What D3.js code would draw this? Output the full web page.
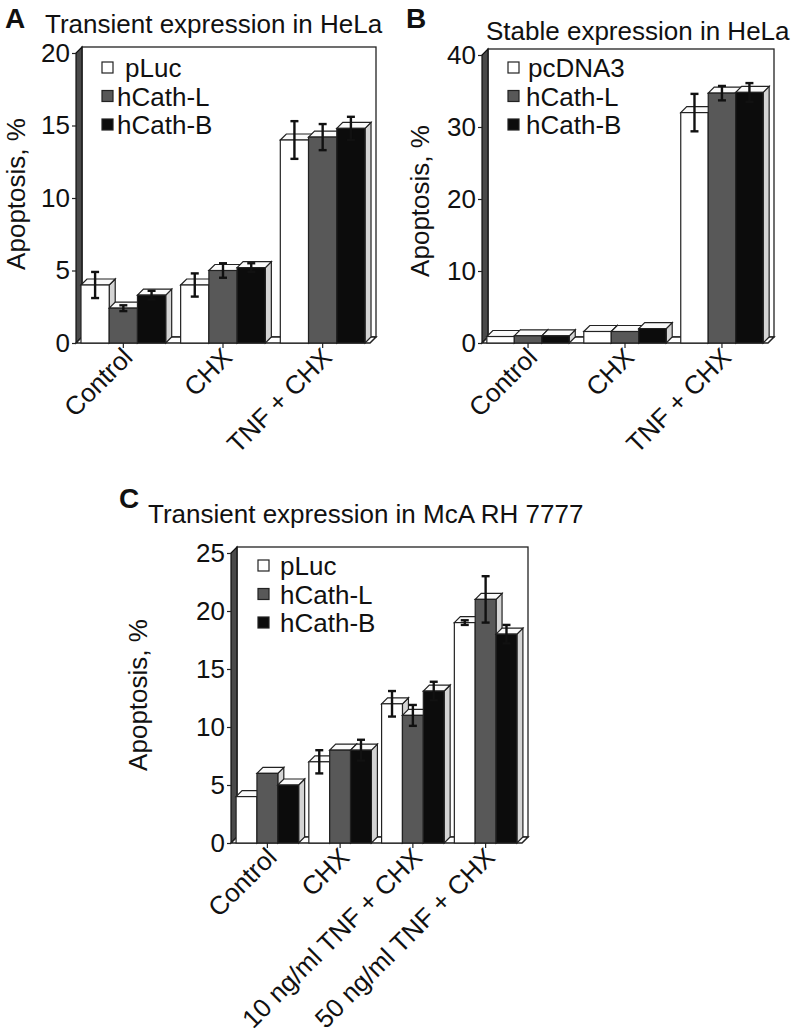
<!DOCTYPE html>
<html>
<head>
<meta charset="utf-8">
<script src="https://cdn.jsdelivr.net/npm/d3@7"></script>
<style>
  body { margin: 0; background: #fff; }
  text { font-family: "Liberation Sans", Arial, sans-serif; fill: #111; }
</style>
</head>
<body>
<script>
// categories
var categoriesAB = ["Control", "CHX", "TNF + CHX"];
var categoriesC = ["Control", "CHX", "10 ng/ml TNF + CHX", "50 ng/ml TNF + CHX"];
var seriesA = ["pLuc", "hCath-L", "hCath-B"];
var seriesB = ["pcDNA3", "hCath-L", "hCath-B"];
var seriesC = ["pLuc", "hCath-L", "hCath-B"];

// panel A values (% apoptosis) and error
var aLuc = [4.0, 4.0, 14.0], aLucErr = [0.9, 0.8, 1.3];
var aCathL = [2.4, 5.0, 14.2], aCathLErr = [0.2, 0.5, 0.9];
var aCathB = [3.3, 5.2, 14.8], aCathBErr = [0.3, 0.3, 0.8];

// panel B
var bPc = [0.9, 1.6, 32.0], bPcErr = [0, 0, 2.6];
var bCathL = [1.0, 1.6, 34.7], bCathLErr = [0, 0, 1.0];
var bCathB = [1.0, 2.0, 34.8], bCathBErr = [0, 0, 1.3];

// panel C
var cLuc = [4.0, 7.0, 12.0, 19.0], cLucErr = [0, 1.0, 1.1, 0.2];
var cCathL = [6.0, 8.0, 11.0, 21.0], cCathLErr = [0, 0, 0.9, 2.0];
var cCathB = [5.0, 8.0, 13.1, 18.0], cCathBErr = [0, 0.9, 0.8, 0.8];

var ticksA = [0, 5, 10, 15, 20];
var ticksB = [0, 10, 20, 30, 40];
var ticksC = [0, 5, 10, 15, 20, 25];

var fills = ["#ffffff", "#585858", "#0c0c0c"];
var depth = 6;

var svg = d3.select("body")
        .append("svg")
        .attr("width", 796)
        .attr("height", 1035);

function drawPanel(p) {
    var g = svg.append("g");
    var y = d3.scaleLinear().domain(p.domain).range([p.y0, p.yTop]);
    var x = d3.scaleBand().domain(p.categories).range([p.x0, p.x1])
            .paddingInner(p.padIn).paddingOuter(p.padOut);
    var xs = d3.scaleBand().domain(d3.range(p.series.length)).range([0, x.bandwidth()]);
    var top = y(p.domain[1]);

    // back wall
    g.append("rect")
            .attr("x", p.x0 + depth)
            .attr("y", top - depth)
            .attr("width", p.x1 - p.x0)
            .attr("height", p.y0 - top)
            .attr("fill", "#fff")
            .attr("stroke", "#222")
            .attr("stroke-width", 1.3);
    // left wall
    g.append("path")
            .attr("d", "M" + p.x0 + "," + p.y0 + "L" + p.x0 + "," + top +
                    "L" + (p.x0 + depth) + "," + (top - depth) +
                    "L" + (p.x0 + depth) + "," + (p.y0 - depth) + "Z")
            .attr("fill", "#4a4a4a")
            .attr("stroke", "#111")
            .attr("stroke-width", 1.2);
    // floor
    g.append("path")
            .attr("d", "M" + p.x0 + "," + p.y0 + "L" + p.x1 + "," + p.y0 +
                    "L" + (p.x1 + depth) + "," + (p.y0 - depth) +
                    "L" + (p.x0 + depth) + "," + (p.y0 - depth) + "Z")
            .attr("fill", "#fff")
            .attr("stroke", "#222")
            .attr("stroke-width", 1.5);

    // bars
    var rows = [];
    p.categories.forEach(function (c, i) {
        p.values.forEach(function (v, s) {
            rows.push({cat: c, s: s, v: v[i], e: p.errors[s][i]});
        });
    });

    var bar = g.selectAll(".bar")
            .data(rows)
            .enter()
            .append("g")
            .attr("class", "bar");
    bar.each(function (d) {
        var b = d3.select(this);
        var bx = x(d.cat) + xs(d.s), bw = xs.bandwidth(), by = y(d.v);
        // side
        b.append("path")
                .attr("d", "M" + (bx + bw) + "," + p.y0 + "L" + (bx + bw) + "," + by +
                        "L" + (bx + bw + depth) + "," + (by - depth) +
                        "L" + (bx + bw + depth) + "," + (p.y0 - depth) + "Z")
                .attr("fill", "#d4d4d4")
                .attr("stroke", "#222")
                .attr("stroke-width", 1.2);
        // top
        b.append("path")
                .attr("d", "M" + bx + "," + by + "L" + (bx + bw) + "," + by +
                        "L" + (bx + bw + depth) + "," + (by - depth) +
                        "L" + (bx + depth) + "," + (by - depth) + "Z")
                .attr("fill", "#fafafa")
                .attr("stroke", "#222")
                .attr("stroke-width", 1.2);
        // front
        b.append("rect")
                .attr("x", bx)
                .attr("y", by)
                .attr("width", bw)
                .attr("height", p.y0 - by)
                .attr("fill", fills[d.s])
                .attr("stroke", "#222")
                .attr("stroke-width", 1.2);
    });

    // error bars on top of everything
    var err = g.selectAll(".err")
            .data(rows.filter(function (d) { return d.e > 0; }))
            .enter()
            .append("g")
            .attr("class", "err")
            .attr("stroke", "#111")
            .attr("stroke-width", 2.4);
    err.append("line")
            .attr("x1", function (d) { return x(d.cat) + xs(d.s) + xs.bandwidth() / 2; })
            .attr("x2", function (d) { return x(d.cat) + xs(d.s) + xs.bandwidth() / 2; })
            .attr("y1", function (d) { return y(d.v + d.e); })
            .attr("y2", function (d) { return y(d.v - d.e); });
    [1, -1].forEach(function (sign) {
        err.append("line")
                .attr("x1", function (d) { return x(d.cat) + xs(d.s) + xs.bandwidth() / 2 - 4; })
                .attr("x2", function (d) { return x(d.cat) + xs(d.s) + xs.bandwidth() / 2 + 4; })
                .attr("y1", function (d) { return y(d.v + sign * d.e); })
                .attr("y2", function (d) { return y(d.v + sign * d.e); });
    });

    // y axis
    var yAxis = g.append("g")
            .attr("transform", "translate(" + p.x0 + ",0)")
            .call(d3.axisLeft(y).tickValues(p.ticks).tickSize(4).tickPadding(2));
    yAxis.select(".domain").remove();
    yAxis.selectAll("line").attr("stroke", "#222").attr("stroke-width", 1.2);
    yAxis.selectAll("text")
            .style("font-size", "26px")
            .attr("fill", "#111");

    // x ticks and rotated labels
    g.selectAll(".xtick")
            .data(p.categories)
            .enter()
            .append("line")
            .attr("x1", function (d) { return x(d) + x.bandwidth() / 2; })
            .attr("x2", function (d) { return x(d) + x.bandwidth() / 2; })
            .attr("y1", p.y0)
            .attr("y2", p.y0 + 5)
            .attr("stroke", "#222")
            .attr("stroke-width", 1.2);
    g.selectAll(".xlab")
            .data(p.categories)
            .enter()
            .append("text")
            .attr("transform", function (d) {
                return "translate(" + (x(d) + x.bandwidth() / 2 - 2) + "," + (p.y0 + 3) + ") rotate(-45)";
            })
            .attr("text-anchor", "end")
            .attr("dy", "0.7em")
            .style("font-size", "26px")
            .text(function (d) { return d; });

    // y label
    g.append("text")
            .attr("transform", "translate(" + p.ylabX + "," + p.ylabY + ") rotate(-90)")
            .attr("text-anchor", "middle")
            .style("font-size", "26px")
            .text("Apoptosis, %");

    // title + panel letter
    g.append("text")
            .attr("x", p.titleX).attr("y", p.titleY)
            .style("font-size", "26px")
            .text(p.title);
    g.append("text")
            .attr("x", p.letterX).attr("y", p.letterY)
            .style("font-size", "28px")
            .style("font-weight", "bold")
            .text(p.letter);

    // legend
    var leg = g.selectAll(".leg")
            .data(p.series)
            .enter()
            .append("g")
            .attr("transform", function (d, i) {
                return "translate(" + p.legX + "," + (p.legY + i * 28.5) + ")";
            });
    leg.append("rect")
            .attr("x", 0).attr("y", -15)
            .attr("width", 11).attr("height", 11)
            .attr("fill", function (d, i) { return fills[i]; })
            .attr("stroke", "#222")
            .attr("stroke-width", 1.2);
    leg.append("text")
            .attr("x", function (d, i) { return p.legText[i]; })
            .attr("y", 0)
            .style("font-size", "26px")
            .text(function (d) { return d; });
}

drawPanel({
    letter: "A", letterX: 5, letterY: 28,
    title: "Transient expression in HeLa", titleX: 45, titleY: 33,
    categories: categoriesAB, series: seriesA,
    values: [aLuc, aCathL, aCathB], errors: [aLucErr, aCathLErr, aCathBErr],
    domain: [0, 20], ticks: ticksA,
    x0: 76, x1: 370, y0: 343, yTop: 53,
    padIn: 0.15, padOut: 0.05,
    ylabX: 25, ylabY: 194,
    legX: 102, legY: 77, legText: [23, 15, 15]
});

drawPanel({
    letter: "B", letterX: 406, letterY: 28,
    title: "Stable expression in HeLa", titleX: 486, titleY: 40,
    categories: categoriesAB, series: seriesB,
    values: [bPc, bCathL, bCathB], errors: [bPcErr, bCathLErr, bCathBErr],
    domain: [0, 40], ticks: ticksB,
    x0: 482, x1: 768, y0: 343, yTop: 55,
    padIn: 0.15, padOut: 0.05,
    ylabX: 429, ylabY: 201,
    legX: 508, legY: 77, legText: [20, 18, 18]
});

drawPanel({
    letter: "C", letterX: 119, letterY: 508,
    title: "Transient expression in McA RH 7777", titleX: 148, titleY: 523,
    categories: categoriesC, series: seriesC,
    values: [cLuc, cCathL, cCathB], errors: [cLucErr, cCathLErr, cCathBErr],
    domain: [0, 25], ticks: ticksC,
    x0: 231, x1: 522, y0: 843, yTop: 553,
    padIn: 0.14, padOut: 0.07,
    ylabX: 147, ylabY: 695,
    legX: 258, legY: 575, legText: [22, 22, 22]
});
</script>
</body>
</html>
